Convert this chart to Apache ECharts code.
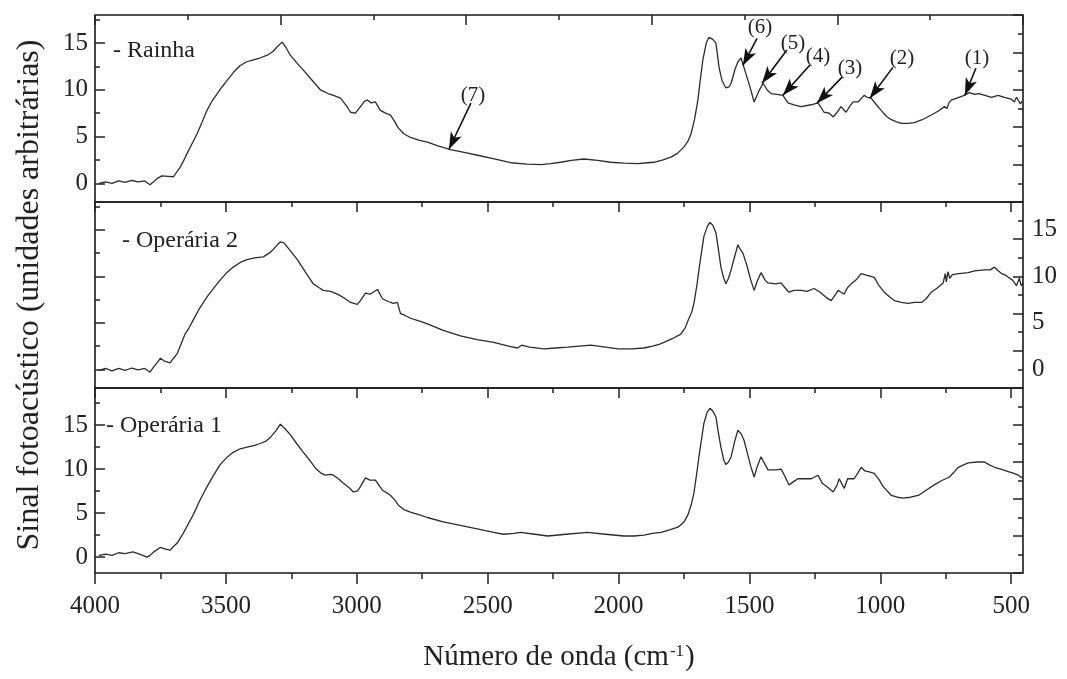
<!DOCTYPE html>
<html>
<head>
<meta charset="utf-8">
<script src="https://cdn.jsdelivr.net/npm/echarts@6/dist/echarts.min.js"></script>
<style>
html,body{margin:0;padding:0;background:#fff;}
#chart{width:1067px;height:679px;}
</style>
</head>
<body>
<div id="chart"></div>
<script>
// ---- data (wavenumber cm^-1, signal) ----
var rainha = [[3985,0.0],[3960,0.15],[3935,0.0],[3910,0.25],[3885,0.1],[3860,0.3],[3835,0.15],[3810,0.25],[3790,-0.15],[3775,0.2],[3763,0.5],[3745,0.8],[3720,0.75],[3700,0.7],[3688,1.2],[3675,1.7],[3660,2.5],[3648,3.2],[3630,4.2],[3610,5.3],[3590,6.6],[3572,7.8],[3553,8.8],[3533,9.6],[3515,10.3],[3495,11.0],[3470,11.9],[3445,12.6],[3420,13.0],[3395,13.2],[3370,13.4],[3342,13.7],[3320,14.1],[3304,14.6],[3285,15.1],[3270,14.5],[3254,13.7],[3230,12.9],[3204,12.1],[3170,11.0],[3139,10.0],[3110,9.6],[3089,9.4],[3062,9.1],[3040,8.3],[3024,7.6],[3005,7.5],[2986,8.2],[2970,8.8],[2960,8.9],[2945,8.6],[2929,8.7],[2910,7.8],[2890,7.5],[2871,7.3],[2855,6.6],[2841,5.9],[2820,5.3],[2795,4.9],[2760,4.6],[2730,4.4],[2690,4.0],[2642,3.6],[2590,3.3],[2538,3.0],[2475,2.6],[2412,2.2],[2350,2.05],[2297,2.0],[2260,2.1],[2221,2.25],[2180,2.45],[2133,2.6],[2080,2.45],[2030,2.25],[1980,2.15],[1926,2.1],[1890,2.2],[1865,2.25],[1830,2.5],[1800,2.8],[1775,3.2],[1750,3.9],[1735,4.5],[1723,5.3],[1710,6.8],[1697,8.9],[1688,11.0],[1678,13.2],[1665,15.0],[1655,15.6],[1640,15.4],[1628,15.0],[1616,12.4],[1605,11.0],[1590,10.2],[1578,10.3],[1570,10.7],[1555,12.2],[1544,13.0],[1532,13.4],[1521,12.4],[1500,10.5],[1482,8.7],[1465,9.8],[1448,10.7],[1430,9.9],[1417,9.6],[1395,9.5],[1372,9.4],[1353,8.6],[1330,8.4],[1303,8.2],[1264,8.4],[1238,8.6],[1215,7.6],[1195,7.5],[1180,7.1],[1165,7.6],[1150,8.2],[1131,7.6],[1115,8.3],[1104,8.7],[1085,8.7],[1062,9.4],[1050,9.2],[1035,9.1],[1015,8.4],[997,7.8],[978,7.2],[958,6.8],[940,6.6],[920,6.4],[895,6.4],[870,6.5],[840,6.8],[805,7.3],[780,7.7],[755,8.2],[745,8.0],[738,8.6],[729,8.9],[700,9.2],[679,9.4],[660,9.7],[640,9.5],[625,9.6],[600,9.4],[576,9.2],[550,9.4],[526,9.2],[500,9.0],[488,8.7],[480,9.2],[473,9.1],[465,8.5],[458,8.8]];

var operaria2 = [[3985,-0.1],[3960,0.1],[3935,-0.15],[3910,0.1],[3885,-0.1],[3860,0.15],[3835,-0.05],[3810,0.1],[3790,-0.3],[3775,0.3],[3763,0.7],[3750,1.2],[3735,0.9],[3713,0.7],[3700,1.2],[3686,1.7],[3670,2.8],[3656,3.8],[3640,4.5],[3625,5.3],[3600,6.6],[3572,7.8],[3545,8.8],[3522,9.6],[3497,10.4],[3472,11.0],[3445,11.5],[3419,11.8],[3390,12.0],[3357,12.1],[3335,12.5],[3319,12.9],[3300,13.5],[3292,13.7],[3278,13.6],[3255,12.8],[3227,11.8],[3195,10.4],[3166,9.2],[3145,8.8],[3128,8.5],[3100,8.4],[3074,8.1],[3050,7.7],[3024,7.2],[2998,7.0],[2986,7.4],[2967,8.2],[2948,8.1],[2921,8.6],[2902,7.6],[2880,7.3],[2860,7.1],[2845,7.2],[2833,6.0],[2815,5.8],[2795,5.5],[2760,5.2],[2730,4.9],[2670,4.2],[2604,3.6],[2540,3.2],[2477,2.9],[2420,2.5],[2386,2.3],[2370,2.6],[2340,2.4],[2286,2.2],[2240,2.3],[2194,2.4],[2150,2.5],[2106,2.6],[2050,2.4],[2003,2.2],[1950,2.2],[1903,2.3],[1870,2.5],[1845,2.7],[1827,2.9],[1795,3.3],[1762,3.8],[1745,4.5],[1731,5.5],[1720,6.2],[1712,7.1],[1700,9.2],[1693,10.7],[1680,13.2],[1674,14.3],[1662,15.3],[1651,15.8],[1640,15.5],[1628,14.7],[1618,12.8],[1609,11.0],[1598,9.8],[1590,9.2],[1580,9.8],[1570,10.7],[1555,12.3],[1544,13.4],[1535,12.9],[1525,12.5],[1510,11.2],[1495,9.6],[1482,8.5],[1470,9.5],[1456,10.4],[1440,9.6],[1429,9.3],[1400,9.2],[1379,9.3],[1365,8.8],[1349,8.3],[1330,8.5],[1303,8.5],[1280,8.4],[1253,8.7],[1230,8.3],[1210,7.8],[1188,7.4],[1175,7.9],[1161,8.5],[1150,8.3],[1138,8.1],[1125,8.8],[1111,9.2],[1090,9.7],[1073,10.3],[1050,10.1],[1023,9.9],[1005,9.0],[985,8.3],[965,7.8],[947,7.4],[920,7.2],[893,7.1],[870,7.2],[843,7.2],[825,7.6],[805,8.3],[780,8.8],[760,9.3],[752,10.3],[748,9.4],[742,10.5],[735,9.8],[725,10.2],[700,10.3],[664,10.4],[640,10.6],[602,10.7],[580,10.7],[564,11.0],[550,10.6],[537,10.3],[520,10.1],[511,9.9],[495,9.6],[480,9.0],[469,9.8],[462,9.0],[456,9.3]];

var operaria1 = [[3985,0.2],[3960,0.35],[3935,0.2],[3910,0.5],[3885,0.4],[3855,0.6],[3830,0.35],[3801,0.0],[3790,0.2],[3775,0.6],[3751,1.1],[3730,0.9],[3713,0.8],[3700,1.2],[3686,1.6],[3663,2.7],[3645,3.7],[3625,4.8],[3600,6.4],[3572,8.0],[3545,9.4],[3522,10.5],[3497,11.3],[3472,11.9],[3445,12.3],[3419,12.5],[3390,12.7],[3369,12.9],[3345,13.2],[3330,13.6],[3310,14.3],[3292,15.1],[3275,14.6],[3254,13.9],[3230,12.9],[3204,11.9],[3180,11.0],[3158,10.1],[3135,9.5],[3120,9.3],[3100,9.4],[3089,9.3],[3070,8.9],[3051,8.4],[3030,7.9],[3013,7.4],[2998,7.5],[2986,8.0],[2967,9.0],[2950,8.75],[2929,8.75],[2902,7.6],[2885,7.3],[2871,7.0],[2855,6.5],[2841,5.9],[2820,5.4],[2795,5.1],[2760,4.8],[2730,4.5],[2670,4.0],[2604,3.6],[2540,3.2],[2477,2.8],[2440,2.6],[2400,2.7],[2374,2.8],[2320,2.6],[2271,2.4],[2200,2.6],[2118,2.8],[2050,2.6],[1980,2.4],[1940,2.4],[1903,2.5],[1870,2.7],[1838,2.8],[1805,3.1],[1773,3.4],[1750,4.0],[1735,4.8],[1722,6.0],[1712,7.3],[1700,9.8],[1693,11.4],[1680,14.0],[1674,15.2],[1662,16.4],[1651,16.9],[1640,16.6],[1628,15.9],[1618,14.0],[1609,12.5],[1598,11.0],[1590,10.5],[1580,10.8],[1570,11.4],[1555,13.3],[1544,14.4],[1532,14.0],[1521,13.3],[1508,11.8],[1495,10.3],[1482,9.1],[1470,10.3],[1456,11.4],[1440,10.5],[1429,9.9],[1400,9.9],[1379,10.0],[1365,9.2],[1349,8.2],[1330,8.6],[1315,8.9],[1290,8.9],[1264,8.9],[1238,9.3],[1222,8.4],[1200,7.9],[1180,7.4],[1165,8.2],[1157,8.9],[1145,8.2],[1138,7.8],[1125,8.9],[1100,8.9],[1085,9.6],[1073,10.2],[1060,9.8],[1046,9.7],[1023,9.5],[1005,8.8],[989,8.0],[970,7.4],[958,7.0],[935,6.8],[912,6.7],[885,6.8],[855,7.0],[825,7.6],[794,8.2],[765,8.7],[736,9.1],[720,9.6],[702,10.2],[680,10.5],[664,10.7],[630,10.8],[602,10.8],[585,10.5],[564,10.2],[540,10.0],[511,9.7],[490,9.5],[473,9.3],[458,9.0]];

// annotations in the Rainha panel: label text, label position, arrow tail, arrow tip
var annLabels = ['(1)','(2)','(3)','(4)','(5)','(6)','(7)'];
var annLabelPos = [[631,13.4],[917,13.3],[1116,12.3],[1238,13.6],[1334,15.0],[1460,16.7],[2556,9.4]];
var annTail = [[635,12.3],[952,12.4],[1146,11.36],[1269,12.65],[1357,14.25],[1471,15.5],[2564,8.57]];
var annTip = [[677,9.43],[1040,9.1],[1242,8.57],[1372,9.43],[1452,10.7],[1525,12.6],[2648,3.64]];

// ticks
var xMajor = [500,1000,1500,2000,2500,3000,3500,4000];
var xMinor = [750,1250,1750,2250,2750,3250,3750];
var yMajor = [0,5,10,15];
var yMinor = [2.5,7.5,12.5,17.5];
var panelNames = ['- Rainha','- Operária 2','- Operária 1'];

var FONT = 'Liberation Serif, Times New Roman, serif';
var INK = '#222';
var XMIN = 455, XMAX = 4000;

var grids = [
  {left:95, right:44, top:15, height:187},
  {left:95, right:44, top:202, height:186},
  {left:95, right:44, top:388, height:185}
];
grids.forEach(function(g){ g.show = true; g.borderColor = '#1a1a1a'; g.borderWidth = 1.6; g.backgroundColor = 'transparent'; g.containLabel = false; g.outerBoundsMode = 'none'; });

function tickAxis(o){
  var a = {
    type:'value', gridIndex:o.grid, position:o.pos, min:o.min, max:o.max,
    inverse: !!o.inverse,
    axisLine:{show:false, onZero:false},
    splitLine:{show:false},
    axisTick:{show:!!o.ticks, inside: o.inside !== false, length:o.len || 10, lineStyle:{color:INK, width:1.5}},
    axisLabel:{show:false},
    nameMoveOverlap:false
  };
  if (o.ticks && o.ticks !== 'auto') a.axisTick.customValues = o.ticks;
  if (o.interval) a.interval = o.interval;
  if (o.minor) a.minorTick = {show:true, splitNumber:2, length:5, lineStyle:{color:INK, width:1.5}};
  if (o.labels) {
    a.axisLabel = {show:true, customValues:o.labels, margin:o.margin, color:INK, fontFamily:FONT, fontSize:25,
      formatter:function(v){ return String(v); }};
  }
  return a;
}

var xAxes = [
  tickAxis({grid:0, pos:'bottom', min:XMIN, max:XMAX, inverse:true}),
  tickAxis({grid:0, pos:'top', min:0, max:10, interval:2, ticks:'auto', len:10, minor:true}),
  tickAxis({grid:1, pos:'top', min:XMIN, max:XMAX, inverse:true, ticks:xMajor, len:10}),
  tickAxis({grid:1, pos:'top', min:XMIN, max:XMAX, inverse:true, ticks:xMinor, len:5}),
  tickAxis({grid:2, pos:'bottom', min:XMIN, max:XMAX, inverse:true, ticks:xMajor, len:11, inside:false, labels:xMajor, margin:21}),
  tickAxis({grid:2, pos:'bottom', min:XMIN, max:XMAX, inverse:true, ticks:xMinor, len:6, inside:false}),
  tickAxis({grid:2, pos:'top', min:XMIN, max:XMAX, inverse:true, ticks:xMajor, len:10}),
  tickAxis({grid:2, pos:'top', min:XMIN, max:XMAX, inverse:true, ticks:xMinor, len:5})
];
xAxes[4].name = 'Número de onda (cm{sup|-1})';
xAxes[4].nameLocation = 'middle';
xAxes[4].nameGap = 70;
xAxes[4].nameTextStyle = {color:INK, fontFamily:FONT, fontSize:29, rich:{sup:{fontFamily:FONT, fontSize:17, color:INK, verticalAlign:'top', padding:[0,1,12,1]}}};

var yAxes = [
  tickAxis({grid:0, pos:'left', min:-2, max:18, ticks:yMajor, len:10, labels:yMajor, margin:7}),
  tickAxis({grid:0, pos:'left', min:-2, max:18, ticks:yMinor, len:5}),
  tickAxis({grid:0, pos:'right', min:-1, max:9, interval:2, ticks:'auto', len:10, minor:true}),
  tickAxis({grid:1, pos:'left', min:-2, max:18, ticks:yMajor, len:10}),
  tickAxis({grid:1, pos:'left', min:-2, max:18, ticks:yMinor, len:5}),
  tickAxis({grid:1, pos:'right', min:-2, max:18, labels:yMajor, margin:9}),
  tickAxis({grid:1, pos:'right', min:-1, max:9, interval:2, ticks:'auto', len:10, minor:true}),
  tickAxis({grid:2, pos:'left', min:-1.8, max:19.2, ticks:yMajor, len:10, labels:yMajor, margin:7}),
  tickAxis({grid:2, pos:'left', min:-1.8, max:19.2, ticks:yMinor, len:5}),
  tickAxis({grid:2, pos:'right', min:-1, max:9, interval:2, ticks:'auto', len:10, minor:true})
];
yAxes[3].name = 'Sinal fotoacústico (unidades arbitrárias)';
yAxes[3].nameLocation = 'middle';
yAxes[3].nameGap = 49;
yAxes[3].nameTextStyle = {color:INK, fontFamily:FONT, fontSize:32};

var lineStyle = {color:'#2b2b2b', width:1.3};

var arrowData = annTail.map(function(t, i){
  return [{coord:t, symbol:'none'}, {coord:annTip[i], symbol:'arrow', symbolSize:[9,17]}];
});
var labelData = annLabels.map(function(s, i){
  return {name:s, coord:annLabelPos[i]};
});

var option = {
  animation:false,
  backgroundColor:'#fff',
  grid: grids,
  xAxis: xAxes,
  yAxis: yAxes,
  graphic: panelNames.map(function(t, i){
    var pos = [[113,52],[122,242],[106,427]][i];
    return {type:'text', left:pos[0], top:pos[1]-13, style:{text:t, font:'24px ' + FONT, fill:INK}};
  }),
  series: [
    {type:'line', name:'Rainha', xAxisIndex:0, yAxisIndex:0, data:rainha, showSymbol:false, symbol:'none', lineStyle:lineStyle, silent:true,
     markLine:{silent:true, symbol:['none','arrow'], label:{show:false}, lineStyle:{color:'#111', width:1.6, type:'solid'}, data:arrowData},
     markPoint:{silent:true, symbol:'circle', symbolSize:0, itemStyle:{color:'transparent'},
       label:{show:true, position:'inside', formatter:'{b}', color:INK, fontFamily:FONT, fontSize:21}, data:labelData}
    },
    {type:'line', name:'Operária 2', xAxisIndex:2, yAxisIndex:3, data:operaria2, showSymbol:false, symbol:'none', lineStyle:lineStyle, silent:true},
    {type:'line', name:'Operária 1', xAxisIndex:4, yAxisIndex:7, data:operaria1, showSymbol:false, symbol:'none', lineStyle:lineStyle, silent:true}
  ]
};

var chart = echarts.init(document.getElementById('chart'), null, {renderer:'canvas'});
chart.setOption(option);
</script>
</body>
</html>
